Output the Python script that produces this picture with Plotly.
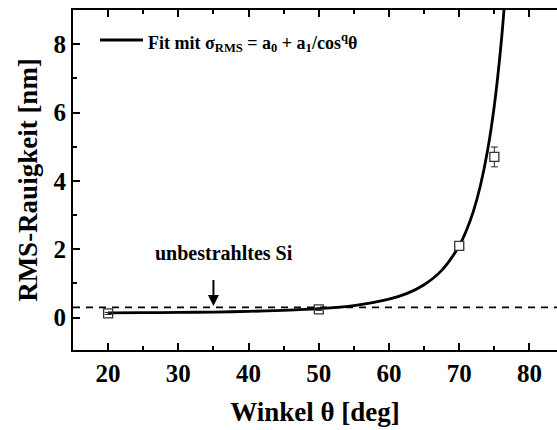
import plotly.graph_objects as go

# Measured data points
angles = [20, 50, 70, 75]
rms = [0.12, 0.24, 2.10, 4.70]
rms_err = [0.03, 0.03, 0.12, 0.29]

# Fit curve
fit_angles = [20, 25, 30, 35, 40, 45, 50, 55, 60, 62.5, 65, 67.5, 70, 71, 72, 73, 74, 75, 76, 76.5]
fit_values = [0.135, 0.141, 0.149, 0.161, 0.18, 0.21, 0.26, 0.35, 0.54, 0.70, 0.96, 1.38,
              2.10, 2.54, 3.10, 3.85, 4.85, 6.21, 8.1, 9.33]

unirradiated_level = 0.3
arrow_angle = 35
arrow_start = 1.14

x_ticks = [20, 30, 40, 50, 60, 70, 80]
y_ticks = [0, 2, 4, 6, 8]

FONT = "Liberation Serif"

fig = go.Figure()

fig.add_trace(go.Scatter(
    x=fit_angles, y=fit_values, mode="lines",
    line=dict(color="black", width=2.8, shape="spline", smoothing=0.8),
    showlegend=False, hoverinfo="skip", cliponaxis=True,
))

fig.add_trace(go.Scatter(
    x=angles, y=rms, mode="markers",
    marker=dict(symbol="square", size=9,
                color=["rgba(0,0,0,0)", "rgba(0,0,0,0)", "white", "white"],
                line=dict(color="#333333", width=1.3)),
    error_y=dict(type="data", array=rms_err, visible=True, color="#222222",
                 thickness=1, width=3.5),
    showlegend=False,
))

fig.add_shape(type="line", xref="x", yref="y", x0=15, x1=84,
              y0=unirradiated_level, y1=unirradiated_level,
              line=dict(color="black", width=1.8, dash="7px,6px"))

# manual legend entry
fig.add_shape(type="line", xref="paper", yref="paper",
              x0=(100 - 73) / 484, x1=(143 - 73) / 484,
              y0=(350 - 40) / 340, y1=(350 - 40) / 340,
              line=dict(color="black", width=2.8))
fig.add_annotation(xref="paper", yref="paper",
                   x=(146 - 73) / 484, y=(350 - 42) / 340,
                   xanchor="left", yanchor="middle", showarrow=False,
                   text="<b>Fit mit σ<sub>RMS</sub> = a<sub>0</sub> + a<sub>1</sub>/cos<sup>q</sup>θ</b>",
                   font=dict(family=FONT, size=18, color="black"))

fig.add_annotation(x=arrow_angle, y=unirradiated_level + 0.04,
                   ax=arrow_angle, ay=arrow_start, axref="x", ayref="y",
                   xref="x", yref="y", showarrow=True,
                   arrowhead=2, arrowsize=1.1, arrowwidth=2, arrowcolor="black",
                   text="")
fig.add_annotation(x=36.5, y=1.89, xref="x", yref="y", showarrow=False,
                   text="<b>unbestrahltes Si</b>",
                   font=dict(family=FONT, size=20, color="black"))

axis_common = dict(
    showline=True, linecolor="black", linewidth=2.2,
    ticks="inside", ticklen=7, tickwidth=2, tickcolor="black",
    showgrid=False, zeroline=False,
    tickfont=dict(family=FONT, size=25, color="black"),
)

fig.update_xaxes(
    range=[15, 83.92], tickvals=x_ticks,
    ticktext=[f"<b>{v}</b>" for v in x_ticks],
    mirror="ticks",
    minor=dict(dtick=5, tick0=15, ticks="inside", ticklen=4, tickwidth=2, tickcolor="black"),
    title=dict(text="<b>Winkel θ [deg]</b>", font=dict(family=FONT, size=27, color="black"),
               standoff=16),
    **axis_common,
)
fig.update_yaxes(
    range=[-0.95, 9.0], tickvals=y_ticks,
    ticktext=[f"<b>{v}</b>" for v in y_ticks],
    mirror=False,
    minor=dict(dtick=1, tick0=1, ticks="inside", ticklen=4, tickwidth=2, tickcolor="black"),
    title=dict(text="<b>RMS-Rauigkeit [nm]</b>", font=dict(family=FONT, size=27, color="black"),
               standoff=8),
    **axis_common,
)

fig.update_layout(
    width=557, height=430,
    margin=dict(l=73, r=0, t=10, b=80),
    plot_bgcolor="white", paper_bgcolor="white",
    font=dict(family=FONT, color="black"),
    showlegend=False,
)

fig.write_html("out.html")
